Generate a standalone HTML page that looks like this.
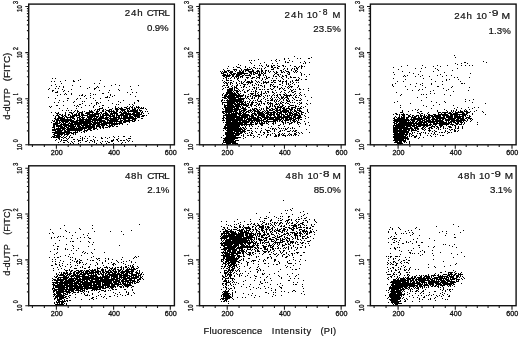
<!DOCTYPE html>
<html><head><meta charset="utf-8"><style>html,body{margin:0;padding:0;background:#fff;width:520px;height:337px;overflow:hidden}svg{display:block}</style></head><body>
<svg width="520" height="337" viewBox="0 0 520 337">
<rect width="520" height="337" fill="#fff"/>
<g>
<path stroke="#000" stroke-width="1" fill="none" d="M454 55.5h1M294 56.5h1M311 57.5h1m143 0h1M284 58.5h1m3 0h1m8 0h1m2 0h1m7 0h2M258 59.5h1m17 0h1m7 0h1M249 60.5h1m1 0h1m2 0h1m16 0h1m3 0h1m3 0h1m9 0h1M276 61.5h1m8 0h1m6 0h1m11 0h1m178 0h1M250 62.5h1m13 0h1m20 0h1m1 0h2m11 0h1m4 0h1m3 0h1m154 0h2m20 0h1M251 63.5h1m8 0h1m11 0h1m4 0h1m25 0h1m1 0h1m149 0h1m5 0h1m5 0h1M238 64.5h1m27 0h1m190 0h1M240 65.5h1m13 0h1m4 0h1m1 0h1m4 0h1m1 0h1m2 0h1m1 0h2m2 0h1m4 0h2m6 0h1m10 0h1m105 0h1m14 0h1m14 0h1m9 0h1m13 0h1m3 0h1m3 0h1m2 0h1M228 66.5h1m7 0h1m8 0h1m16 0h1m4 0h2m2 0h2m5 0h2m3 0h1m1 0h1m8 0h2m3 0h1m1 0h2m1 0h1m96 0h1m31 0h1m6 0h1M233 67.5h1m3 0h3m5 0h1m3 0h1m3 0h2m10 0h1m5 0h2m1 0h2m1 0h1m18 0h1m1 0h1m2 0h1m91 0h1m31 0h1M227 68.5h1m12 0h1m6 0h1m3 0h1m3 0h1m1 0h1m1 0h1m1 0h1m2 0h1m8 0h1m3 0h2m5 0h1m2 0h1m4 0h1m1 0h1m1 0h2m3 0h1m113 0h1m5 0h1m13 0h1m21 0h1M223 69.5h1m9 0h4m4 0h1m2 0h7m1 0h1m8 0h1m9 0h3m9 0h1m3 0h1m3 0h1m2 0h1m2 0h1m100 0h1m38 0h1M224 70.5h1m2 0h3m4 0h1m1 0h1m2 0h1m1 0h1m1 0h1m1 0h4m3 0h2m3 0h2m2 0h2m2 0h2m1 0h1m11 0h2m3 0h1m5 0h1m3 0h2m141 0h1m13 0h1M220 71.5h1m1 0h1m1 0h3m1 0h1m1 0h3m2 0h1m3 0h2m1 0h2m1 0h1m2 0h6m2 0h4m1 0h2m2 0h1m2 0h1m1 0h1m2 0h1m2 0h1m4 0h1m1 0h1m2 0h3m4 0h1m1 0h1m1 0h1m104 0h1m17 0h1m12 0h1M221 72.5h1m1 0h4m2 0h4m4 0h7m5 0h3m1 0h3m1 0h1m1 0h1m1 0h1m1 0h1m1 0h1m3 0h1m4 0h1m1 0h2m3 0h2m1 0h1m3 0h2m4 0h1m1 0h1m3 0h1m92 0h1m15 0h1m34 0h1M221 73.5h3m3 0h1m2 0h2m1 0h3m1 0h11m2 0h2m1 0h1m1 0h3m1 0h1m1 0h2m1 0h2m9 0h2m10 0h1m1 0h1m11 0h1m111 0h1m56 0h1M223 74.5h3m1 0h1m1 0h1m1 0h4m1 0h6m2 0h1m4 0h1m1 0h1m1 0h2m3 0h3m2 0h1m10 0h1m2 0h2m1 0h1m7 0h2m11 0h1m2 0h1m4 0h1m84 0h1m23 0h1m21 0h1M222 75.5h9m1 0h2m2 0h4m2 0h2m1 0h6m7 0h3m2 0h1m1 0h1m7 0h1m4 0h1m3 0h1m2 0h2m14 0h1m102 0h1m2 0h1m14 0h1m14 0h1m8 0h1m4 0h1M223 76.5h2m1 0h4m2 0h2m1 0h4m1 0h3m7 0h1m5 0h1m2 0h1m6 0h1m6 0h1m1 0h2m2 0h1m2 0h2m2 0h1m3 0h1m15 0h1m96 0h1m1 0h1m9 0h1m4 0h1m8 0h1m12 0h1M225 77.5h2m4 0h1m2 0h1m1 0h1m1 0h1m1 0h1m1 0h1m3 0h3m3 0h3m2 0h3m4 0h1m1 0h1m1 0h2m11 0h1m4 0h1m3 0h2m1 0h3m2 0h1m155 0h1m2 0h1m11 0h1M52 78.5h1m2 0h1m167 0h1m2 0h1m1 0h1m1 0h1m3 0h1m2 0h2m8 0h1m3 0h2m3 0h1m2 0h1m2 0h1m3 0h2m4 0h1m3 0h1m5 0h1m5 0h1m10 0h1m93 0h1m29 0h1M80 79.5h1m145 0h1m10 0h1m7 0h1m16 0h1m2 0h1m17 0h1m12 0h1m1 0h1m2 0h1m3 0h2m98 0h1m25 0h1m14 0h1m2 0h1m8 0h1M65 80.5h1m7 0h1m4 0h1m21 0h1m121 0h1m3 0h3m1 0h2m6 0h1m6 0h1m5 0h1m3 0h1m5 0h1m9 0h1m1 0h3m2 0h1m1 0h1m5 0h1m5 0h1m2 0h4m147 0h1M51 81.5h1m2 0h1m5 0h1m12 0h2m149 0h1m8 0h1m5 0h1m1 0h1m2 0h1m2 0h3m1 0h2m3 0h1m1 0h1m4 0h1m1 0h1m2 0h1m4 0h1m5 0h2m1 0h2m1 0h2m3 0h1m1 0h1m104 0h1m5 0h1m31 0h1m6 0h1m17 0h1M223 82.5h1m1 0h2m1 0h1m1 0h2m4 0h1m4 0h1m1 0h1m2 0h7m4 0h1m1 0h1m3 0h6m2 0h2m1 0h2m6 0h1m3 0h1m3 0h1m2 0h1m2 0h1m1 0h1M61 83.5h1m32 0h1m4 0h1m124 0h1m1 0h2m2 0h1m1 0h1m3 0h1m2 0h1m1 0h2m5 0h1m1 0h1m4 0h1m5 0h1m1 0h1m2 0h1m15 0h1m3 0h1m1 0h1m3 0h1m102 0h1m20 0h1m5 0h1m8 0h1m29 0h2m1 0h1M55 84.5h1m59 0h1m111 0h1m2 0h1m6 0h1m5 0h3m1 0h1m4 0h1m3 0h1m1 0h1m11 0h2m1 0h1m5 0h2m5 0h1m1 0h1m1 0h1m3 0h1m97 0h1m17 0h1m9 0h1m10 0h1m10 0h1M51 85.5h1m20 0h1m38 0h1m7 0h1m18 0h1m84 0h2m1 0h2m4 0h1m3 0h2m2 0h1m3 0h1m7 0h1m1 0h1m3 0h1m1 0h2m2 0h1m5 0h1m1 0h1m9 0h1m6 0h1m8 0h1m93 0h1m29 0h1M56 86.5h1m2 0h1m3 0h1m16 0h1m16 0h1m6 0h1m25 0h1m91 0h1m5 0h1m2 0h1m2 0h1m1 0h1m6 0h2m4 0h1m12 0h1m1 0h1m5 0h1m2 0h3m1 0h1m7 0h1m2 0h1m1 0h3m5 0h1m94 0h1m11 0h1m9 0h1m21 0h2m13 0h1M63 87.5h1m25 0h1m6 0h1m1 0h1m126 0h1m1 0h2m3 0h1m1 0h3m4 0h1m1 0h1m2 0h1m6 0h2m1 0h1m1 0h1m5 0h1m9 0h1m2 0h1m3 0h1m5 0h1m1 0h1m1 0h1m5 0h1m127 0h1m25 0h1m17 0h1M49 88.5h1m5 0h1m2 0h1m28 0h1m6 0h2m127 0h1m5 0h4m1 0h1m1 0h2m16 0h1m1 0h1m13 0h1m2 0h1m5 0h2m1 0h1m1 0h1m3 0h1m10 0h1m8 0h1m134 0h1M48 89.5h1m13 0h1m8 0h1m22 0h1m23 0h1m12 0h1m90 0h1m4 0h6m1 0h1m3 0h1m4 0h1m5 0h1m2 0h1m3 0h1m2 0h2m1 0h1m1 0h1m2 0h2m2 0h2m6 0h1m3 0h1m6 0h1m2 0h1m1 0h1m3 0h2m2 0h1m103 0h1m11 0h1m2 0h1m25 0h1M52 90.5h2m10 0h1m34 0h1m9 0h1m9 0h1m107 0h6m1 0h4m1 0h1m2 0h1m4 0h2m6 0h1m19 0h1m8 0h2m5 0h2m15 0h1m103 0h1m5 0h1m14 0h1m12 0h1m21 0h1M52 91.5h1m4 0h1m5 0h1m4 0h1m158 0h5m1 0h1m2 0h3m1 0h1m3 0h1m2 0h1m3 0h1m1 0h1m1 0h2m4 0h1m3 0h1m1 0h2m3 0h1m8 0h1m7 0h1m1 0h1m2 0h2m134 0h1m22 0h1M55 92.5h3m50 0h1m18 0h1m4 0h1m3 0h1m89 0h7m1 0h1m1 0h2m6 0h2m9 0h1m2 0h1m2 0h1m3 0h1m2 0h1m3 0h2m2 0h1m3 0h1m3 0h1m3 0h1m3 0h2m6 0h1m95 0h1M65 93.5h1m5 0h1m18 0h1m11 0h2m119 0h1m2 0h10m1 0h2m1 0h1m9 0h4m1 0h1m1 0h1m3 0h1m1 0h2m1 0h1m7 0h1m10 0h1m9 0h1m3 0h1m130 0h1m3 0h1M60 94.5h1m3 0h1m1 0h1m4 0h1m10 0h1m10 0h1m1 0h1m14 0h1m19 0h1m91 0h1m2 0h3m1 0h8m1 0h2m3 0h1m4 0h1m2 0h2m2 0h1m2 0h1m1 0h2m11 0h1m3 0h1m1 0h2m2 0h2m1 0h1m3 0h1m3 0h1m5 0h1m3 0h1m96 0h1m19 0h1m1 0h1m2 0h1m17 0h1M57 95.5h1m21 0h1m1 0h2m2 0h1m4 0h1m19 0h1m3 0h1m107 0h1m1 0h3m1 0h16m1 0h1m4 0h1m2 0h7m1 0h1m3 0h1m1 0h1m1 0h1m2 0h1m1 0h1m1 0h2m2 0h1m3 0h8m1 0h1m2 0h1m2 0h1m1 0h1m98 0h1m49 0h1M84 96.5h1m22 0h1m4 0h1m22 0h1m88 0h11m1 0h7m2 0h1m1 0h2m1 0h1m1 0h1m2 0h2m1 0h3m2 0h1m3 0h1m3 0h1m5 0h1m3 0h1m1 0h1m2 0h2m1 0h1m5 0h1m9 0h1M48 97.5h1m41 0h1m14 0h3m1 0h1m112 0h4m1 0h12m1 0h1m4 0h1m1 0h1m4 0h1m1 0h1m3 0h1m5 0h1m6 0h1m2 0h1m1 0h1m1 0h1m2 0h3m1 0h3m4 0h1m2 0h2m1 0h1m12 0h1m105 0h1m8 0h1M55 98.5h1m11 0h2m8 0h1m2 0h1m5 0h1m6 0h1m6 0h1m123 0h3m1 0h8m2 0h7m1 0h1m1 0h1m2 0h2m1 0h1m3 0h1m4 0h1m3 0h1m2 0h1m1 0h1m6 0h1m1 0h2m1 0h1m2 0h2m4 0h1m6 0h1M76 99.5h1m145 0h1m4 0h1m1 0h15m5 0h1m7 0h1m3 0h1m3 0h1m5 0h2m2 0h1m1 0h1m2 0h1m2 0h1m2 0h1m1 0h1m5 0h1m6 0h1m163 0h1m7 0h1M59 100.5h1m7 0h1m27 0h1m12 0h1m14 0h1m13 0h2m82 0h2m1 0h1m1 0h16m1 0h1m6 0h1m2 0h1m1 0h1m1 0h1m2 0h1m6 0h2m1 0h3m1 0h1m1 0h1m2 0h1m3 0h1m2 0h2m1 0h1m2 0h1m3 0h2m1 0h2m6 0h1m113 0h1m47 0h1M63 101.5h1m10 0h1m7 0h1m1 0h1m33 0h1m19 0h1m82 0h1m5 0h17m1 0h1m1 0h1m1 0h1m2 0h1m5 0h4m3 0h1m8 0h1m1 0h1m1 0h1m2 0h1m5 0h3m107 0h1m33 0h1m12 0h1m20 0h1M54 102.5h1m3 0h1m14 0h1m22 0h2m2 0h1m19 0h1m13 0h1m87 0h13m1 0h2m1 0h4m1 0h2m3 0h1m1 0h3m1 0h2m4 0h1m5 0h2m1 0h1m4 0h1m4 0h1m1 0h2m2 0h1m3 0h1m1 0h1m1 0h1m4 0h1m1 0h1m92 0h1m41 0h1m8 0h1m26 0h1M82 103.5h1m8 0h1m4 0h1m1 0h1m13 0h1m21 0h1m87 0h1m4 0h9m1 0h3m1 0h3m1 0h1m1 0h2m2 0h2m4 0h1m1 0h1m1 0h1m1 0h2m2 0h1m1 0h4m3 0h1m1 0h1m1 0h2m3 0h1m1 0h2m8 0h1m2 0h2m4 0h1m3 0h1m99 0h1m74 0h1M79 104.5h2m15 0h1m19 0h1m1 0h1m10 0h1m2 0h1m89 0h1m1 0h1m2 0h6m1 0h13m1 0h1m1 0h3m3 0h1m1 0h2m4 0h1m3 0h1m1 0h1m1 0h1m2 0h3m1 0h1m2 0h1m6 0h1m9 0h1m7 0h1m131 0h1M56 105.5h2m5 0h1m10 0h1m2 0h1m7 0h1m3 0h1m4 0h1m7 0h2m29 0h1m90 0h10m1 0h5m1 0h1m1 0h6m1 0h2m2 0h2m2 0h1m1 0h1m9 0h1m1 0h1m1 0h1m4 0h1m2 0h2m6 0h4m1 0h1m104 0h1m22 0h1m9 0h1m19 0h1M49 106.5h1m1 0h1m24 0h1m1 0h1m14 0h1m5 0h1m15 0h1m11 0h1m2 0h1m1 0h1m3 0h1m1 0h1m85 0h2m1 0h14m1 0h1m3 0h2m3 0h1m4 0h1m9 0h1m2 0h2m1 0h1m1 0h2m1 0h2m1 0h3m2 0h1m2 0h2m5 0h2m1 0h1m2 0h1m3 0h1m120 0h1M50 107.5h1m30 0h1m11 0h1m8 0h1m5 0h1m6 0h1m2 0h1m2 0h1m2 0h3m2 0h1m1 0h2m1 0h1m1 0h4m1 0h1m1 0h1m80 0h11m1 0h3m1 0h1m1 0h2m1 0h1m2 0h2m9 0h1m6 0h2m1 0h1m5 0h1m1 0h5m1 0h2m3 0h1m2 0h5m4 0h1m2 0h1m96 0h1m56 0h1m10 0h1m5 0h1m3 0h1M59 108.5h1m7 0h1m8 0h1m22 0h4m9 0h1m2 0h3m1 0h4m3 0h4m2 0h1m1 0h2m2 0h1m1 0h4m1 0h1m76 0h1m2 0h8m1 0h5m2 0h5m6 0h1m1 0h3m4 0h1m1 0h1m2 0h3m2 0h2m2 0h3m2 0h1m1 0h3m1 0h4m1 0h2m2 0h1m1 0h5m129 0h1m22 0h1m6 0h1m10 0h1M95 109.5h1m1 0h3m3 0h1m1 0h1m3 0h3m3 0h4m1 0h6m1 0h1m1 0h1m2 0h4m1 0h1m1 0h1m6 0h1m76 0h1m1 0h16m2 0h4m3 0h1m1 0h3m1 0h2m1 0h1m1 0h1m1 0h1m2 0h1m2 0h2m1 0h3m1 0h2m1 0h2m2 0h4m2 0h4m1 0h1m2 0h1m1 0h1m7 0h1m107 0h1m2 0h1m25 0h1m11 0h1m8 0h1m3 0h1M62 110.5h1m3 0h1m1 0h1m2 0h1m3 0h1m1 0h1m11 0h1m1 0h1m2 0h1m2 0h1m1 0h1m2 0h2m2 0h4m1 0h1m1 0h1m2 0h2m3 0h4m2 0h2m1 0h8m1 0h3m83 0h8m1 0h4m1 0h1m1 0h5m2 0h4m1 0h3m1 0h2m1 0h1m3 0h1m1 0h2m1 0h4m2 0h6m1 0h7m1 0h2m2 0h2m1 0h4m6 0h1m94 0h1m9 0h1m4 0h1m19 0h1m8 0h1m4 0h1m1 0h1m2 0h1m3 0h1m3 0h1m1 0h1m9 0h1M74 111.5h1m2 0h2m3 0h1m1 0h1m4 0h4m3 0h3m3 0h2m1 0h1m2 0h7m1 0h2m2 0h1m1 0h1m1 0h2m1 0h11m2 0h1m1 0h1m2 0h1m1 0h1m74 0h15m2 0h3m1 0h2m1 0h3m1 0h1m1 0h1m1 0h6m2 0h2m1 0h1m1 0h2m4 0h2m1 0h2m2 0h9m1 0h1m1 0h1m1 0h3m2 0h3m5 0h1m94 0h1m5 0h1m11 0h2m15 0h1m9 0h1m3 0h1m1 0h1m1 0h1m2 0h1m1 0h3m1 0h4m2 0h1m3 0h1m7 0h1M51 112.5h1m3 0h1m2 0h1m6 0h1m3 0h3m1 0h1m3 0h1m1 0h4m3 0h8m2 0h2m2 0h2m3 0h2m2 0h1m1 0h1m1 0h4m2 0h3m1 0h4m1 0h1m4 0h7m1 0h2m79 0h2m1 0h7m1 0h1m1 0h3m1 0h2m1 0h2m1 0h2m1 0h2m1 0h1m2 0h1m2 0h6m1 0h1m1 0h10m1 0h5m1 0h4m1 0h4m1 0h1m2 0h3m2 0h3m4 0h1m91 0h3m14 0h2m9 0h1m9 0h3m1 0h6m1 0h2m1 0h1m2 0h9m2 0h4m13 0h1M56 113.5h3m6 0h1m5 0h2m3 0h1m1 0h2m1 0h2m2 0h5m2 0h1m1 0h6m1 0h1m1 0h5m2 0h8m3 0h10m1 0h3m1 0h4m1 0h1m1 0h1m4 0h1m74 0h2m1 0h1m1 0h2m1 0h11m1 0h3m6 0h4m1 0h7m1 0h4m1 0h2m1 0h2m1 0h2m1 0h3m3 0h1m1 0h1m1 0h4m1 0h3m1 0h2m1 0h1m3 0h1m89 0h2m6 0h1m15 0h1m1 0h2m4 0h1m10 0h1m2 0h1m2 0h2m2 0h4m1 0h5m4 0h3m1 0h2m4 0h1M57 114.5h1m1 0h2m1 0h1m2 0h1m2 0h2m2 0h1m1 0h3m1 0h2m1 0h3m3 0h12m1 0h1m1 0h2m1 0h4m1 0h3m1 0h1m1 0h2m2 0h4m1 0h17m83 0h12m1 0h3m1 0h7m2 0h2m1 0h3m1 0h7m2 0h8m1 0h4m1 0h3m1 0h3m1 0h2m1 0h6m1 0h1m1 0h2m90 0h1m2 0h2m1 0h1m1 0h4m1 0h2m2 0h1m9 0h1m3 0h1m3 0h2m3 0h3m2 0h10m2 0h17m5 0h1m12 0h1M53 115.5h1m2 0h3m2 0h2m1 0h2m2 0h1m1 0h1m1 0h8m1 0h7m1 0h7m2 0h1m1 0h1m1 0h9m1 0h3m1 0h12m1 0h2m2 0h7m2 0h3m1 0h1m76 0h14m2 0h11m1 0h3m1 0h2m1 0h7m1 0h2m1 0h3m1 0h2m2 0h3m1 0h1m1 0h2m2 0h6m1 0h7m3 0h1m94 0h1m2 0h3m3 0h2m2 0h2m2 0h3m1 0h3m1 0h1m1 0h1m1 0h5m1 0h7m1 0h7m1 0h3m1 0h4m1 0h1m2 0h4m1 0h1m1 0h1M55 116.5h1m2 0h2m2 0h2m1 0h2m3 0h5m1 0h1m2 0h2m1 0h1m4 0h12m1 0h4m2 0h1m2 0h6m1 0h1m1 0h2m1 0h1m1 0h5m1 0h4m1 0h6m1 0h3m79 0h1m2 0h14m1 0h7m1 0h5m3 0h2m2 0h4m1 0h3m1 0h1m3 0h2m1 0h5m1 0h7m1 0h1m1 0h3m2 0h3m4 0h1m89 0h1m3 0h1m1 0h1m1 0h2m3 0h3m1 0h1m1 0h3m1 0h1m1 0h2m1 0h3m1 0h3m1 0h10m2 0h2m1 0h7m1 0h10m1 0h1m3 0h2M55 117.5h1m2 0h5m1 0h1m1 0h8m3 0h3m1 0h4m2 0h6m1 0h1m1 0h2m1 0h5m1 0h4m1 0h1m2 0h7m1 0h1m1 0h11m1 0h1m1 0h3m83 0h2m1 0h22m1 0h1m1 0h5m1 0h4m1 0h30m1 0h3m1 0h5m6 0h1m85 0h1m1 0h1m1 0h2m1 0h4m1 0h3m2 0h5m2 0h2m1 0h1m1 0h8m1 0h2m1 0h10m1 0h7m1 0h7m1 0h2m2 0h4M54 118.5h2m1 0h8m2 0h1m2 0h1m1 0h3m2 0h1m1 0h2m1 0h2m2 0h1m1 0h4m1 0h4m1 0h10m1 0h8m1 0h19m4 0h2m79 0h2m1 0h10m1 0h7m1 0h2m1 0h12m1 0h2m2 0h4m1 0h5m1 0h5m1 0h3m1 0h3m1 0h5m1 0h5m5 0h1m87 0h2m2 0h8m1 0h2m3 0h1m1 0h12m1 0h4m2 0h3m1 0h10m2 0h8m1 0h7m1 0h2m1 0h4M55 119.5h4m1 0h12m2 0h1m2 0h1m1 0h23m3 0h4m1 0h9m1 0h1m2 0h3m2 0h2m2 0h4m87 0h1m2 0h17m1 0h1m1 0h6m1 0h7m1 0h1m1 0h3m1 0h15m1 0h1m1 0h7m1 0h3m2 0h1m1 0h2m92 0h15m1 0h13m1 0h3m1 0h2m1 0h7m1 0h2m1 0h2m1 0h10m1 0h3m1 0h5m2 0h1m2 0h1m1 0h1M52 120.5h1m1 0h1m1 0h18m2 0h8m1 0h6m1 0h13m2 0h11m2 0h3m1 0h9m1 0h2m2 0h1m83 0h3m1 0h21m1 0h16m2 0h2m5 0h5m1 0h2m1 0h1m1 0h5m1 0h1m1 0h3m1 0h1m1 0h1m94 0h17m1 0h4m2 0h4m1 0h3m1 0h5m1 0h2m1 0h8m2 0h5m1 0h15m1 0h1m3 0h1M53 121.5h2m1 0h2m1 0h1m1 0h8m1 0h8m1 0h14m1 0h2m1 0h1m1 0h7m1 0h1m1 0h13m1 0h7m2 0h3m91 0h5m1 0h6m1 0h2m1 0h8m1 0h2m1 0h1m1 0h4m1 0h1m1 0h13m1 0h1m1 0h1m1 0h2m2 0h1m4 0h1m2 0h3m1 0h1m6 0h1m89 0h13m1 0h1m1 0h1m1 0h3m1 0h2m1 0h4m1 0h20m2 0h1m1 0h1m1 0h5m1 0h6m1 0h1m2 0h1m3 0h1M51 122.5h1m3 0h3m1 0h2m1 0h2m1 0h3m1 0h1m1 0h20m1 0h10m1 0h10m1 0h1m1 0h1m2 0h3m1 0h3m3 0h1m93 0h1m1 0h24m1 0h4m1 0h1m1 0h1m1 0h1m1 0h2m1 0h1m1 0h1m1 0h1m4 0h1m1 0h1m6 0h2m1 0h1m1 0h2m2 0h2m1 0h1m2 0h3m8 0h1m84 0h2m1 0h2m1 0h15m1 0h2m1 0h9m1 0h7m1 0h2m1 0h8m1 0h4m1 0h3m1 0h2m1 0h3m1 0h1m12 0h1M53 123.5h7m1 0h1m1 0h3m2 0h5m1 0h18m1 0h7m1 0h22m103 0h17m1 0h3m3 0h2m3 0h3m1 0h6m1 0h2m4 0h2m1 0h1m7 0h1m1 0h1m3 0h3m5 0h1m2 0h1m4 0h1m88 0h3m1 0h24m1 0h2m1 0h2m2 0h1m2 0h17m1 0h1m3 0h4m2 0h1m2 0h1M53 124.5h5m2 0h9m1 0h12m1 0h5m1 0h7m1 0h10m2 0h1m1 0h7m1 0h1m2 0h1m4 0h1m97 0h29m1 0h2m3 0h3m5 0h1m4 0h1m6 0h1m2 0h1m5 0h1m8 0h1m6 0h1m88 0h1m1 0h16m1 0h2m1 0h12m1 0h3m1 0h4m2 0h10m1 0h4m2 0h2m1 0h3m1 0h1m13 0h1M53 125.5h2m1 0h6m1 0h11m1 0h1m1 0h3m1 0h10m1 0h3m1 0h4m1 0h4m1 0h2m1 0h4m1 0h1m110 0h15m1 0h2m1 0h1m1 0h1m2 0h1m1 0h1m9 0h2m15 0h2m29 0h1m83 0h24m1 0h13m1 0h1m2 0h1m3 0h4m3 0h1m5 0h1m1 0h2M53 126.5h2m1 0h7m1 0h3m1 0h8m1 0h4m1 0h2m1 0h10m1 0h5m1 0h2m4 0h3m1 0h2m2 0h2m106 0h2m1 0h13m5 0h1m3 0h1m2 0h1m5 0h1m12 0h1m12 0h1m14 0h1m93 0h1m1 0h10m1 0h5m1 0h3m1 0h5m2 0h2m1 0h2m3 0h4m1 0h2m2 0h2m1 0h1m4 0h3m4 0h1m2 0h1m3 0h1M52 127.5h3m3 0h1m1 0h5m1 0h3m1 0h5m1 0h1m1 0h17m1 0h1m2 0h2m1 0h2m1 0h3m1 0h1m114 0h15m1 0h1m1 0h2m1 0h1m22 0h1m9 0h1m9 0h1m3 0h1m100 0h15m2 0h2m2 0h4m4 0h2m1 0h1m3 0h3m2 0h1m2 0h2m1 0h1m2 0h1m5 0h3m3 0h1m2 0h1m3 0h1M54 128.5h1m1 0h10m1 0h20m1 0h4m1 0h4m3 0h1m2 0h1m119 0h19m1 0h2m1 0h1m3 0h2m3 0h1m1 0h1m3 0h1m8 0h1m1 0h2m1 0h1m3 0h1m1 0h1m1 0h1m1 0h1m1 0h1m2 0h1m1 0h1m1 0h1m98 0h20m1 0h5m2 0h2m1 0h1m3 0h2m1 0h2m3 0h1m1 0h1m4 0h1m1 0h1m1 0h1m7 0h1m1 0h2m3 0h1M52 129.5h9m1 0h3m1 0h17m1 0h1m2 0h4m2 0h2m2 0h1m127 0h1m1 0h16m1 0h2m19 0h1m6 0h1m1 0h1m1 0h1m8 0h2m19 0h1m86 0h5m1 0h3m1 0h7m1 0h3m1 0h1m1 0h2m3 0h2m1 0h1m3 0h1m8 0h1m1 0h1m8 0h1m1 0h2m1 0h1M52 130.5h4m1 0h6m1 0h2m1 0h15m2 0h4m2 0h2m131 0h1m2 0h15m1 0h3m2 0h3m1 0h1m9 0h1m4 0h4m4 0h1m5 0h1m1 0h1m1 0h1m5 0h1m2 0h1m1 0h2m96 0h14m1 0h2m1 0h6m7 0h1m3 0h3m3 0h1m10 0h1m4 0h1m3 0h2m2 0h1M55 131.5h7m2 0h6m5 0h1m1 0h1m1 0h1m3 0h2m1 0h1m140 0h6m1 0h12m6 0h1m2 0h1m4 0h1m6 0h1m2 0h1m3 0h1m4 0h2m6 0h3m2 0h1m1 0h2m97 0h16m2 0h1m5 0h2m10 0h1m2 0h1m2 0h2m8 0h1m1 0h1m6 0h2m1 0h1M52 132.5h20m1 0h5m3 0h1m2 0h1m140 0h10m1 0h3m1 0h3m1 0h1m4 0h1m1 0h1m4 0h1m3 0h1m2 0h2m2 0h2m9 0h1m17 0h1m1 0h1m2 0h1m7 0h1m83 0h5m1 0h10m3 0h1m1 0h1m6 0h1m1 0h1m1 0h1m8 0h1m4 0h1m1 0h2m1 0h1m3 0h2m1 0h1M54 133.5h11m1 0h4m1 0h3m1 0h1m149 0h17m3 0h1m1 0h1m3 0h2m11 0h1m7 0h1m1 0h1m4 0h1m2 0h1m1 0h1m4 0h1m4 0h2m3 0h1m2 0h1m91 0h11m1 0h2m1 0h2m1 0h1m4 0h1m1 0h2m4 0h1m2 0h1m2 0h1m2 0h1m12 0h1M53 134.5h2m2 0h6m1 0h5m4 0h1m1 0h1m149 0h9m1 0h5m3 0h1m6 0h1m7 0h2m3 0h1m3 0h2m1 0h1m4 0h1m2 0h2m1 0h1m1 0h1m4 0h1m1 0h2m2 0h3m96 0h15m1 0h1m1 0h1m8 0h1m12 0h1m1 0h1m1 0h1M54 135.5h6m1 0h1m2 0h1m2 0h1m2 0h1m152 0h1m2 0h13m2 0h1m1 0h1m3 0h2m1 0h2m1 0h1m7 0h1m5 0h1m2 0h1m4 0h2m1 0h2m2 0h4m1 0h1m1 0h1m1 0h1m1 0h1m1 0h1m2 0h1m95 0h10m1 0h2m2 0h1m2 0h2m2 0h1m3 0h1m6 0h1m2 0h1m9 0h1m1 0h2M52 136.5h3m1 0h5m2 0h1m2 0h1m2 0h1m10 0h1m4 0h1m3 0h1m3 0h1m19 0h1m4 0h1m4 0h2m5 0h1m95 0h10m7 0h1m10 0h1m2 0h1m8 0h1m7 0h3m1 0h1m6 0h1m107 0h13m1 0h1m1 0h1m1 0h1m2 0h3m14 0h1m3 0h1M51 137.5h1m1 0h7m1 0h2m1 0h2m3 0h1m1 0h2m9 0h1m12 0h1m5 0h1m3 0h1m3 0h1m4 0h1m106 0h1m3 0h16m4 0h1m7 0h1m5 0h1m6 0h1m126 0h15m6 0h2m3 0h1m3 0h1M58 138.5h2m3 0h1m2 0h1m1 0h1m11 0h1m1 0h1m1 0h1m2 0h1m13 0h2m4 0h1m10 0h1m9 0h3m92 0h15m5 0h1m150 0h15m9 0h1M56 139.5h1m2 0h1m1 0h1m5 0h1m5 0h2m2 0h1m4 0h1m10 0h1m19 0h1m2 0h2m8 0h1m97 0h11m159 0h10m1 0h1m1 0h2M55 140.5h1m5 0h1m1 0h4m11 0h3m1 0h1m4 0h1m2 0h2m2 0h1m2 0h1m13 0h3m3 0h1m2 0h2m1 0h2m2 0h1m1 0h1m93 0h11m1 0h4m154 0h13M60 141.5h1m6 0h1m3 0h1m2 0h1m3 0h1m6 0h2m5 0h1m1 0h1m7 0h1m2 0h1m1 0h1m3 0h2m5 0h1m9 0h1m3 0h1m90 0h1m1 0h11m159 0h3m1 0h3m1 0h3m3 0h1M58 142.5h1m4 0h2m3 0h1m3 0h1m7 0h1m8 0h1m4 0h1m5 0h1m7 0h2m12 0h1m2 0h1m97 0h13m158 0h8m2 0h1m1 0h1m2 0h1M70 143.5h1m2 0h1m4 0h1m17 0h1m4 0h1m4 0h1m6 0h1m7 0h1m100 0h1m3 0h5m1 0h6m159 0h6m6 0h1M224 144.5h1m1 0h3m6 0h1m1 0h1m158 0h1m1 0h1m1 0h1M283 200.5h1M292 208.5h1M290 209.5h1M285 210.5h1m1 0h1m3 0h1M303 211.5h1M269 212.5h1m30 0h1M256 213.5h1m24 0h1m4 0h1m20 0h1M292 214.5h1m11 0h1M303 215.5h1M266 216.5h1m7 0h1m5 0h1m1 0h1m5 0h2m11 0h1M260 217.5h1m7 0h1m7 0h1m11 0h1m9 0h1m7 0h1M264 218.5h3m11 0h1m1 0h1m20 0h1m2 0h2M237 219.5h1m12 0h1m8 0h1m11 0h1m10 0h1m5 0h2m1 0h1m4 0h1m1 0h2m9 0h1m4 0h1M264 220.5h1m5 0h2m6 0h1m1 0h2m4 0h3m2 0h1m3 0h1m7 0h1m1 0h2m7 0h1M221 221.5h1m4 0h1m7 0h1m9 0h1m5 0h1m9 0h1m1 0h1m7 0h1m14 0h1m1 0h1m8 0h1m1 0h1m8 0h1m7 0h1M240 222.5h1m22 0h2m7 0h1m1 0h2m1 0h1m2 0h2m5 0h1m1 0h1m2 0h1m4 0h1m4 0h2m3 0h1m8 0h1M238 223.5h1m12 0h1m2 0h1m2 0h1m4 0h1m3 0h1m1 0h1m1 0h1m3 0h1m1 0h1m2 0h2m1 0h1m3 0h1m1 0h1m2 0h2m3 0h1m3 0h3M139 224.5h1m86 0h1m7 0h1m1 0h1m3 0h1m6 0h2m1 0h1m2 0h2m3 0h1m2 0h1m3 0h2m1 0h1m2 0h1m2 0h1m4 0h1m6 0h1m7 0h2m2 0h2m2 0h2m7 0h1m2 0h1m138 0h1M64 225.5h1m27 0h1m135 0h1m1 0h1m8 0h1m3 0h1m11 0h1m1 0h3m2 0h2m6 0h1m1 0h1m2 0h1m2 0h1m2 0h1m2 0h1m4 0h1m1 0h6m1 0h1m1 0h1m3 0h1m1 0h1m4 0h1M221 226.5h1m9 0h1m2 0h1m4 0h2m2 0h1m4 0h1m3 0h2m2 0h1m2 0h5m1 0h1m1 0h2m4 0h1m6 0h2m1 0h2m8 0h4m3 0h1m11 0h2m122 0h1m21 0h1M223 227.5h2m2 0h1m6 0h3m2 0h2m1 0h1m1 0h6m2 0h1m2 0h1m3 0h5m1 0h1m1 0h3m2 0h1m1 0h1m10 0h2m1 0h2m2 0h2m2 0h1m1 0h4m1 0h2m1 0h2m2 0h1m79 0h1m7 0h1m17 0h1M60 228.5h1m18 0h1m12 0h1m131 0h1m2 0h1m9 0h1m5 0h1m1 0h6m4 0h1m2 0h1m2 0h3m2 0h1m1 0h1m2 0h2m4 0h1m3 0h1m1 0h2m4 0h3m1 0h2m1 0h2m8 0h2m1 0h2m81 0h1m6 0h1m15 0h1M50 229.5h1m29 0h1m141 0h2m1 0h1m2 0h2m1 0h1m1 0h4m2 0h1m1 0h3m2 0h1m2 0h2m1 0h2m1 0h2m2 0h1m1 0h2m2 0h3m1 0h2m1 0h1m2 0h1m1 0h1m1 0h2m2 0h3m1 0h1m3 0h3m5 0h3m2 0h1m7 0h1m76 0h1m2 0h1m7 0h1m18 0h1M65 230.5h1m65 0h1m93 0h3m2 0h2m5 0h6m1 0h1m1 0h4m3 0h1m2 0h2m3 0h3m2 0h1m2 0h1m2 0h1m1 0h1m1 0h4m2 0h3m2 0h1m4 0h2m5 0h1m2 0h3m1 0h1m3 0h1m5 0h1m91 0h1m2 0h1m51 0h1M66 231.5h1m27 0h1m15 0h1m10 0h1m98 0h1m2 0h11m1 0h1m3 0h4m1 0h3m1 0h1m1 0h1m1 0h1m3 0h1m1 0h2m2 0h1m1 0h1m1 0h1m3 0h2m2 0h2m2 0h3m1 0h1m1 0h1m1 0h1m9 0h1m3 0h1m1 0h6m2 0h2m1 0h1m74 0h1m16 0h1m36 0h1m3 0h1M52 232.5h1m16 0h1m5 0h1m147 0h2m1 0h3m1 0h6m2 0h1m1 0h9m2 0h1m4 0h1m2 0h1m3 0h2m1 0h1m3 0h1m1 0h1m3 0h1m4 0h2m4 0h1m2 0h5m2 0h1m1 0h2m2 0h1m1 0h1m1 0h1m1 0h3m2 0h1m73 0h1m6 0h1m13 0h1m2 0h1m26 0h1m20 0h1M49 233.5h1m3 0h1m34 0h1m132 0h9m1 0h6m1 0h6m1 0h9m1 0h1m1 0h4m3 0h1m2 0h2m2 0h1m4 0h1m1 0h1m5 0h1m1 0h3m3 0h1m1 0h4m1 0h3m2 0h1m1 0h2m1 0h1m85 0h1m5 0h1m1 0h1m2 0h1m6 0h1m32 0h1M83 234.5h1m39 0h1m97 0h2m1 0h1m1 0h1m1 0h16m1 0h3m1 0h3m1 0h3m1 0h1m1 0h2m2 0h3m1 0h2m2 0h3m5 0h1m3 0h3m2 0h1m1 0h1m3 0h3m3 0h1m1 0h1m3 0h2m6 0h1m81 0h1m15 0h1m41 0h1M72 235.5h1m14 0h1m133 0h1m1 0h12m1 0h8m1 0h3m1 0h5m1 0h1m1 0h1m1 0h1m1 0h4m1 0h1m2 0h1m4 0h1m2 0h1m3 0h2m4 0h1m1 0h1m4 0h4m1 0h2m4 0h1m104 0h1m8 0h1m25 0h1M58 236.5h1m1 0h1m2 0h1m156 0h1m1 0h22m2 0h7m3 0h1m1 0h2m1 0h2m5 0h2m5 0h1m1 0h1m1 0h3m2 0h1m6 0h1m3 0h1m1 0h1m2 0h1m1 0h3m2 0h1m2 0h1m80 0h1m2 0h1M51 237.5h1m2 0h1m2 0h1m22 0h1m3 0h1m3 0h1m132 0h7m1 0h13m1 0h12m1 0h1m4 0h3m1 0h3m4 0h3m2 0h3m4 0h1m1 0h2m4 0h1m2 0h1m1 0h1m4 0h1m4 0h2m81 0h1m63 0h2M51 238.5h1m14 0h1m4 0h1m5 0h1m11 0h2m129 0h7m2 0h23m2 0h1m1 0h1m1 0h2m4 0h3m2 0h2m4 0h2m3 0h1m1 0h1m2 0h1m1 0h3m3 0h1m1 0h1m1 0h1m4 0h2m1 0h2m6 0h1m74 0h1m4 0h4m3 0h1m16 0h1m11 0h1M221 239.5h1m2 0h1m1 0h21m1 0h1m1 0h3m1 0h1m1 0h1m1 0h4m1 0h1m2 0h1m2 0h5m2 0h3m1 0h1m1 0h3m1 0h1m2 0h1m2 0h1m4 0h2m1 0h1m91 0h1m20 0h1M59 240.5h1m161 0h1m1 0h1m1 0h6m1 0h18m1 0h1m1 0h1m5 0h4m1 0h3m4 0h1m2 0h1m1 0h1m3 0h3m3 0h2m1 0h1m11 0h1m2 0h1m5 0h1m83 0h1m4 0h1m34 0h1M70 241.5h1m1 0h2m6 0h1m7 0h1m133 0h1m2 0h23m1 0h1m1 0h2m1 0h1m1 0h1m3 0h1m3 0h1m3 0h1m2 0h3m1 0h1m4 0h1m1 0h3m2 0h2m1 0h4m2 0h1m10 0h3m86 0h1m9 0h1m3 0h1m5 0h1M89 242.5h1m3 0h1m127 0h1m1 0h31m1 0h2m3 0h1m1 0h2m1 0h4m5 0h9m4 0h1m2 0h4m1 0h1m1 0h1m2 0h1m1 0h2m84 0h1m4 0h2m3 0h1m7 0h1m1 0h1m7 0h1m4 0h2M55 243.5h1m164 0h23m1 0h2m1 0h4m2 0h3m1 0h2m1 0h1m1 0h1m1 0h1m4 0h1m3 0h1m1 0h1m1 0h1m1 0h1m5 0h1m2 0h1m1 0h1m1 0h1m2 0h1m5 0h2m2 0h1m2 0h1m93 0h2m8 0h1M66 244.5h1m25 0h1m128 0h2m1 0h9m1 0h5m1 0h4m1 0h1m2 0h2m3 0h1m1 0h1m1 0h1m8 0h1m2 0h1m2 0h1m1 0h1m2 0h1m1 0h1m2 0h1m2 0h2m1 0h2m7 0h2m92 0h1m6 0h1m44 0h1m1 0h1m8 0h1M53 245.5h1m18 0h1m46 0h1m101 0h11m1 0h6m2 0h4m1 0h2m1 0h1m2 0h3m1 0h3m3 0h2m4 0h4m1 0h1m4 0h1m3 0h3m5 0h1m2 0h1m8 0h1m6 0h1m108 0h2m29 0h1M57 246.5h2m14 0h1m14 0h1m134 0h2m2 0h10m1 0h1m1 0h14m3 0h1m5 0h4m1 0h1m1 0h1m1 0h2m3 0h1m4 0h1m5 0h1m4 0h1m11 0h1m122 0h1m5 0h1m17 0h1M220 247.5h1m3 0h12m1 0h16m1 0h2m1 0h2m4 0h3m4 0h3m5 0h1m5 0h1m1 0h1m1 0h1m2 0h1m3 0h1m1 0h1m2 0h2m3 0h1m88 0h1m2 0h1m1 0h1m19 0h1m13 0h1m22 0h1M57 248.5h1m7 0h1m7 0h1m4 0h1m144 0h12m1 0h7m4 0h1m2 0h1m4 0h2m1 0h1m1 0h2m2 0h2m1 0h1m4 0h2m1 0h1m1 0h2m1 0h1m2 0h1m1 0h1m2 0h1m2 0h1m5 0h1m92 0h1m3 0h2m17 0h1M54 249.5h1m2 0h1m7 0h1m1 0h1m26 0h1m126 0h6m1 0h9m2 0h1m1 0h2m1 0h1m2 0h4m1 0h1m1 0h1m2 0h1m6 0h4m2 0h1m1 0h2m14 0h1m7 0h1m98 0h1M71 250.5h1m4 0h1m147 0h2m1 0h4m1 0h5m2 0h5m2 0h1m4 0h1m3 0h1m1 0h2m3 0h1m4 0h1m2 0h1m3 0h1m4 0h1m3 0h2m9 0h1m104 0h1m8 0h1m2 0h1m10 0h1m9 0h1M50 251.5h1m32 0h1m139 0h1m1 0h1m1 0h4m1 0h4m1 0h3m1 0h4m1 0h1m8 0h1m1 0h3m3 0h4m1 0h2m3 0h1m6 0h1m2 0h1m5 0h1m111 0h1m18 0h1m3 0h1M57 252.5h1m24 0h1m2 0h1m5 0h1m12 0h1m116 0h7m1 0h7m1 0h4m1 0h2m1 0h1m2 0h3m1 0h2m10 0h2m2 0h1m2 0h1m8 0h1m1 0h1m3 0h1m9 0h3m4 0h2m104 0h2m13 0h1m15 0h1m20 0h1M56 253.5h1m16 0h1m10 0h1m2 0h1m4 0h1m129 0h1m1 0h6m1 0h10m1 0h2m2 0h1m2 0h2m1 0h1m2 0h1m3 0h1m3 0h1m9 0h1m2 0h1m4 0h1m4 0h1m4 0h2m1 0h1m2 0h1m92 0h1m19 0h1m1 0h1m1 0h1m3 0h1m13 0h1m18 0h1M54 254.5h1m14 0h1m153 0h1m1 0h9m2 0h2m5 0h1m3 0h4m2 0h1m8 0h1m6 0h2m3 0h2m2 0h1m4 0h2m3 0h1m3 0h1m107 0h1m21 0h1m34 0h1M65 255.5h1m15 0h1m139 0h9m1 0h5m1 0h3m3 0h1m5 0h1m1 0h1m25 0h1m4 0h1m6 0h1m2 0h1m7 0h2m118 0h1m12 0h1M60 256.5h1m7 0h1m24 0h1m41 0h1m2 0h1m84 0h12m2 0h5m1 0h2m11 0h1m1 0h1m11 0h1m5 0h1m5 0h1m3 0h2m98 0h1m1 0h1m1 0h2m3 0h3m1 0h1m64 0h1M49 257.5h1m4 0h1m2 0h2m11 0h1m1 0h1m18 0h1m30 0h1m11 0h1m1 0h1m86 0h2m1 0h9m1 0h1m1 0h2m16 0h1m10 0h2m2 0h1m13 0h2m6 0h1m96 0h1m14 0h1m3 0h1m43 0h1M75 258.5h1m20 0h1m1 0h2m5 0h1m2 0h1m24 0h1m89 0h2m1 0h13m4 0h1m4 0h2m17 0h1m3 0h1m116 0h1m4 0h1m1 0h1M52 259.5h1m2 0h1m14 0h1m4 0h1m3 0h1m7 0h1m9 0h1m10 0h1m3 0h1m8 0h1m99 0h3m1 0h13m3 0h1m1 0h1m15 0h1m4 0h1m9 0h2m17 0h1m6 0h1m92 0h1m5 0h1m6 0h1m26 0h1M60 260.5h1m11 0h1m4 0h1m2 0h2m8 0h1m1 0h2m5 0h1m5 0h1m10 0h1m12 0h1m91 0h1m1 0h1m2 0h11m2 0h2m2 0h1m8 0h4m7 0h1m1 0h1m8 0h2m13 0h1m5 0h1m9 0h1m82 0h1m9 0h1m4 0h2m3 0h2M52 261.5h1m2 0h1m7 0h1m10 0h1m1 0h2m1 0h1m25 0h1m11 0h1m5 0h1m2 0h1m4 0h1m89 0h2m2 0h4m1 0h9m7 0h1m4 0h1m1 0h1m4 0h1m4 0h1m10 0h1m3 0h1m8 0h1m11 0h1m93 0h2m6 0h1m41 0h1M59 262.5h1m10 0h1m5 0h1m2 0h2m1 0h1m13 0h1m5 0h1m8 0h1m6 0h1m2 0h1m9 0h1m3 0h1m87 0h1m1 0h2m1 0h8m2 0h2m7 0h2m30 0h1m7 0h1m99 0h1m2 0h1m2 0h1m1 0h1m4 0h1m3 0h1m1 0h2M55 263.5h1m6 0h1m14 0h1m1 0h1m6 0h1m10 0h1m4 0h1m5 0h1m4 0h2m8 0h1m99 0h3m1 0h3m1 0h5m5 0h1m5 0h1m5 0h1m10 0h2m2 0h1m10 0h1m8 0h4m3 0h1m92 0h1m2 0h1m4 0h2m3 0h1m6 0h1m47 0h1M55 264.5h2m2 0h1m7 0h1m2 0h1m12 0h1m1 0h1m4 0h1m6 0h1m14 0h2m1 0h1m9 0h1m7 0h1m88 0h1m2 0h2m1 0h1m1 0h5m1 0h1m1 0h1m8 0h1m10 0h1m14 0h1m2 0h2m22 0h1m86 0h1m2 0h1m1 0h2m2 0h1m31 0h1m26 0h1M51 265.5h2m6 0h1m2 0h1m12 0h1m1 0h1m17 0h1m7 0h1m9 0h1m14 0h1m1 0h1m1 0h1m92 0h1m2 0h4m1 0h4m10 0h1m37 0h1m7 0h1m101 0h2m6 0h1m46 0h1M60 266.5h1m4 0h1m5 0h1m10 0h1m6 0h1m16 0h1m14 0h1m3 0h2m3 0h1m1 0h2m3 0h1m83 0h2m1 0h2m1 0h1m1 0h2m1 0h3m1 0h1m2 0h1m4 0h1m13 0h1m9 0h1m18 0h1m113 0h1m3 0h1m28 0h1m9 0h1M57 267.5h1m12 0h1m9 0h1m1 0h1m5 0h2m7 0h1m2 0h1m3 0h4m1 0h1m2 0h1m2 0h1m1 0h2m1 0h2m1 0h1m1 0h2m1 0h1m2 0h3m4 0h1m85 0h1m3 0h2m1 0h2m1 0h1m2 0h1m12 0h1m6 0h1m28 0h1m3 0h1m96 0h1m4 0h2m4 0h1m5 0h1m5 0h1m17 0h1m6 0h1M53 268.5h1m7 0h1m12 0h3m7 0h2m11 0h3m2 0h1m4 0h1m2 0h3m1 0h2m5 0h1m1 0h1m3 0h1m1 0h1m1 0h1m1 0h2m1 0h2m83 0h1m1 0h1m2 0h2m1 0h1m2 0h3m4 0h1m9 0h1m9 0h1m39 0h1m90 0h1m2 0h1m6 0h1m8 0h1M58 269.5h1m5 0h1m4 0h1m19 0h1m2 0h1m1 0h2m1 0h1m3 0h3m1 0h1m3 0h1m1 0h1m1 0h3m1 0h2m1 0h2m1 0h1m2 0h10m92 0h2m1 0h3m4 0h1m17 0h2m2 0h1m19 0h1m11 0h1m2 0h2m91 0h1m6 0h1m2 0h1m1 0h1m3 0h1m1 0h1m2 0h1m5 0h1m2 0h1M53 270.5h1m11 0h3m1 0h1m1 0h2m3 0h3m1 0h3m1 0h1m1 0h3m1 0h6m1 0h2m2 0h3m1 0h1m2 0h3m1 0h2m1 0h1m2 0h3m1 0h1m2 0h4m2 0h3m3 0h1m1 0h1m84 0h3m1 0h6m1 0h1m1 0h1m1 0h1m18 0h1m1 0h1m2 0h1m127 0h1m3 0h2m7 0h2m2 0h1m44 0h1M66 271.5h1m3 0h2m2 0h2m2 0h4m1 0h1m1 0h5m1 0h3m1 0h6m1 0h2m1 0h4m1 0h2m1 0h4m1 0h2m1 0h13m2 0h1m2 0h1m84 0h1m2 0h2m1 0h1m1 0h1m3 0h1m2 0h1m5 0h1m4 0h1m6 0h1m20 0h1m109 0h1m2 0h1m7 0h1m45 0h1m9 0h1M59 272.5h1m1 0h1m1 0h2m1 0h2m2 0h1m2 0h2m1 0h4m1 0h3m1 0h3m1 0h10m1 0h1m1 0h3m1 0h7m1 0h3m1 0h1m1 0h5m1 0h4m1 0h2m2 0h3m1 0h1m2 0h1m77 0h1m3 0h4m1 0h3m2 0h1m22 0h1m128 0h1m7 0h1m3 0h2m6 0h2m1 0h1m30 0h2m6 0h5m1 0h1m6 0h1M56 273.5h1m4 0h1m1 0h5m1 0h3m1 0h2m1 0h3m1 0h2m1 0h11m1 0h1m1 0h2m1 0h2m1 0h1m1 0h2m1 0h2m2 0h4m1 0h3m1 0h3m1 0h3m1 0h4m3 0h4m1 0h1m82 0h3m1 0h1m1 0h1m2 0h1m2 0h1m3 0h1m1 0h1m5 0h1m13 0h1m1 0h1m9 0h1m17 0h1m100 0h1m6 0h1m34 0h1m12 0h1m1 0h2m3 0h2m1 0h1m1 0h1M56 274.5h1m1 0h1m1 0h4m1 0h1m1 0h4m2 0h3m1 0h1m1 0h7m1 0h2m2 0h1m1 0h1m1 0h2m1 0h2m1 0h3m1 0h1m1 0h15m1 0h5m3 0h6m1 0h1m1 0h2m1 0h1m81 0h1m1 0h5m5 0h1m1 0h1m22 0h2m5 0h1m17 0h1m10 0h1m88 0h4m2 0h2m1 0h1m3 0h1m6 0h2m19 0h1m5 0h1m3 0h1m4 0h4m1 0h5m1 0h2m2 0h5M57 275.5h1m1 0h6m1 0h2m1 0h1m1 0h9m2 0h3m3 0h9m5 0h2m1 0h3m1 0h9m1 0h11m1 0h6m1 0h3m81 0h1m2 0h1m1 0h1m1 0h3m2 0h1m4 0h1m1 0h1m5 0h1m6 0h1m23 0h1m17 0h1m95 0h1m6 0h1m4 0h1m2 0h1m1 0h1m6 0h1m2 0h1m1 0h1m1 0h1m1 0h2m1 0h1m2 0h5m1 0h2m1 0h1m1 0h1m4 0h3m1 0h1m1 0h2m1 0h3m1 0h1M54 276.5h1m1 0h2m5 0h4m1 0h1m1 0h4m1 0h14m1 0h8m2 0h1m1 0h8m1 0h7m1 0h3m1 0h5m1 0h3m1 0h1m1 0h4m1 0h1m1 0h1m79 0h2m1 0h2m2 0h2m3 0h1m4 0h1m5 0h1m9 0h2m10 0h1m11 0h1m9 0h1m5 0h1m94 0h2m2 0h1m2 0h1m10 0h1m3 0h1m1 0h2m4 0h2m2 0h6m1 0h1m1 0h1m4 0h10m1 0h5m2 0h3m1 0h1m1 0h1M55 277.5h2m1 0h11m2 0h1m2 0h1m1 0h4m2 0h12m1 0h15m1 0h1m1 0h5m1 0h7m1 0h3m1 0h8m1 0h2m81 0h2m3 0h1m1 0h1m19 0h1m9 0h1m5 0h1m14 0h1m106 0h1m2 0h1m5 0h1m1 0h1m3 0h1m1 0h1m1 0h2m2 0h2m1 0h2m1 0h5m1 0h2m1 0h4m1 0h1m2 0h9m1 0h1m1 0h3m1 0h4m2 0h2m1 0h1m3 0h1M52 278.5h1m4 0h2m1 0h1m2 0h5m1 0h9m1 0h2m1 0h21m1 0h5m2 0h4m1 0h4m1 0h1m1 0h14m2 0h2m1 0h1m79 0h1m2 0h4m1 0h4m21 0h1m14 0h1m10 0h1m8 0h1m3 0h1m3 0h1m88 0h1m8 0h1m1 0h1m1 0h5m1 0h9m1 0h1m1 0h13m1 0h6m1 0h8m1 0h1m1 0h1m1 0h5m4 0h1m2 0h1M53 279.5h3m1 0h10m1 0h6m1 0h15m1 0h8m1 0h18m1 0h2m1 0h5m2 0h3m2 0h1m2 0h4m2 0h1m78 0h1m2 0h1m6 0h1m1 0h1m29 0h1m123 0h1m4 0h3m1 0h2m1 0h6m1 0h4m1 0h2m1 0h11m1 0h2m1 0h3m1 0h1m1 0h6m1 0h1m1 0h4m1 0h5m1 0h4m2 0h1M52 280.5h1m1 0h10m1 0h11m1 0h4m1 0h3m1 0h2m1 0h4m2 0h19m1 0h5m1 0h3m1 0h10m2 0h2m85 0h3m1 0h1m3 0h1m12 0h1m8 0h1m9 0h1m6 0h1m16 0h2m13 0h1m89 0h16m1 0h4m1 0h2m1 0h12m1 0h4m1 0h1m1 0h1m1 0h5m1 0h4m1 0h1m4 0h1m1 0h1M56 281.5h2m2 0h3m1 0h11m1 0h7m1 0h4m2 0h22m1 0h7m1 0h8m1 0h1m1 0h4m1 0h1m1 0h1m83 0h4m1 0h1m1 0h1m2 0h1m9 0h1m16 0h1m130 0h15m1 0h2m1 0h2m1 0h2m1 0h2m1 0h6m3 0h12m1 0h5m1 0h8m1 0h3M52 282.5h21m1 0h5m1 0h21m1 0h10m1 0h4m1 0h3m1 0h2m1 0h1m1 0h6m1 0h1m1 0h3m87 0h4m2 0h1m1 0h1m1 0h1m23 0h1m4 0h1m1 0h1m25 0h1m3 0h1m92 0h11m1 0h7m1 0h1m1 0h3m1 0h4m1 0h6m1 0h11m1 0h8m2 0h6M53 283.5h1m1 0h3m1 0h22m1 0h10m1 0h2m1 0h5m1 0h1m1 0h9m1 0h5m1 0h1m1 0h4m1 0h1m1 0h2m1 0h1m1 0h2m86 0h2m1 0h2m3 0h1m7 0h1m22 0h2m17 0h1m111 0h29m1 0h1m1 0h1m1 0h1m1 0h6m1 0h6m1 0h12m7 0h1M52 284.5h3m2 0h6m1 0h4m1 0h4m1 0h3m1 0h14m1 0h8m1 0h8m1 0h11m1 0h8m91 0h1m2 0h2m3 0h1m2 0h1m1 0h1m7 0h1m6 0h1m8 0h1m10 0h1m6 0h1m15 0h1m1 0h2m5 0h1m84 0h1m3 0h3m1 0h20m2 0h6m1 0h4m1 0h5m2 0h6m1 0h9m1 0h2M53 285.5h25m1 0h3m1 0h14m1 0h3m1 0h8m1 0h4m2 0h2m3 0h1m1 0h8m91 0h1m2 0h1m1 0h1m2 0h1m50 0h1m108 0h27m1 0h3m1 0h6m1 0h1m1 0h2m1 0h2m1 0h1m1 0h5m2 0h1m1 0h2m1 0h1M53 286.5h1m1 0h10m1 0h23m1 0h2m1 0h11m1 0h1m1 0h9m1 0h1m1 0h3m1 0h1m1 0h4m3 0h2m91 0h1m7 0h1m7 0h1m7 0h1m14 0h1m14 0h1m22 0h1m87 0h1m1 0h16m1 0h6m1 0h2m1 0h4m1 0h1m3 0h1m2 0h2m1 0h2m1 0h2m3 0h1m5 0h1m1 0h1m3 0h1M53 287.5h1m1 0h13m1 0h4m1 0h9m1 0h20m1 0h4m1 0h4m1 0h1m4 0h2m1 0h1m3 0h1m3 0h1m91 0h1m1 0h2m7 0h1m11 0h1m6 0h1m4 0h1m9 0h1m11 0h2m107 0h14m1 0h3m1 0h2m3 0h1m1 0h1m1 0h2m1 0h1m1 0h1m1 0h1m1 0h1m1 0h1m9 0h1m1 0h1m2 0h1M52 288.5h3m3 0h7m1 0h2m1 0h29m1 0h2m1 0h4m3 0h1m1 0h2m113 0h1m1 0h1m1 0h2m2 0h1m21 0h1m3 0h1m4 0h1m5 0h1m9 0h1m21 0h1m85 0h12m1 0h2m1 0h3m1 0h1m1 0h1m2 0h1m1 0h3m3 0h1m20 0h1M52 289.5h1m1 0h21m1 0h3m1 0h3m1 0h1m1 0h2m4 0h9m11 0h2m1 0h2m7 0h2m6 0h1m88 0h1m4 0h1m2 0h1m20 0h1m24 0h1m113 0h1m1 0h8m1 0h5m3 0h1m1 0h1m1 0h1m5 0h1m6 0h1m14 0h1m2 0h1m3 0h1m1 0h2m1 0h1M53 290.5h4m1 0h6m1 0h2m1 0h6m1 0h6m1 0h3m6 0h2m1 0h1m1 0h1m4 0h3m1 0h1m2 0h1m1 0h1m21 0h1m92 0h1m2 0h1m3 0h1m38 0h1m3 0h1m17 0h2m91 0h1m1 0h1m2 0h4m1 0h6m1 0h1m6 0h1m5 0h2m5 0h1m18 0h1m2 0h1m3 0h1M53 291.5h2m1 0h14m1 0h3m4 0h1m1 0h3m1 0h1m1 0h1m1 0h1m10 0h1m4 0h2m20 0h1m96 0h6m6 0h1m45 0h1m2 0h1m7 0h1m2 0h1m7 0h1m86 0h11m1 0h1m1 0h1m5 0h1m1 0h1m2 0h2m1 0h1m3 0h2m10 0h2m9 0h1m4 0h1M53 292.5h1m2 0h8m2 0h5m2 0h3m1 0h2m4 0h1m4 0h1m9 0h1m14 0h1m5 0h1m6 0h1m1 0h1m4 0h1m88 0h1m1 0h4m4 0h1m2 0h1m29 0h2m6 0h1m1 0h1m12 0h1m99 0h1m2 0h11m5 0h1m13 0h1m7 0h1m12 0h1M54 293.5h1m1 0h5m2 0h3m1 0h1m1 0h1m2 0h1m8 0h1m2 0h1m7 0h1m22 0h1m12 0h1m5 0h1m88 0h7m2 0h1m10 0h1m8 0h1m15 0h1m32 0h1m88 0h6m1 0h5m2 0h1m4 0h1m5 0h1m4 0h1m2 0h1m16 0h1m3 0h1M53 294.5h3m1 0h5m1 0h1m1 0h3m7 0h1m8 0h1m2 0h1m4 0h1m7 0h1m4 0h1m11 0h1m2 0h1m6 0h2m93 0h7m1 0h1m1 0h1m15 0h1m24 0h1m30 0h1m84 0h16m2 0h1m21 0h1m3 0h1m8 0h1m4 0h1M54 295.5h1m1 0h9m4 0h2m14 0h3m1 0h1m8 0h1m15 0h1m7 0h1m2 0h1m5 0h1m89 0h1m1 0h7m2 0h1m18 0h1m3 0h1m19 0h1m5 0h1m103 0h1m3 0h13m1 0h1m8 0h1m5 0h1m2 0h1m4 0h1m1 0h1m2 0h1m4 0h1m2 0h1m3 0h1m5 0h1M53 296.5h1m1 0h9m1 0h2m1 0h1m27 0h1m4 0h1m2 0h1m4 0h2m6 0h1m103 0h1m1 0h8m1 0h1m26 0h1m12 0h1m116 0h11m1 0h1m7 0h1m14 0h1m12 0h1m3 0h1m6 0h2M55 297.5h3m1 0h7m3 0h1m5 0h1m16 0h2m9 0h1m119 0h1m1 0h7m5 0h1m4 0h1m2 0h1m8 0h1m133 0h1m1 0h11m2 0h1m9 0h1m3 0h1m5 0h2m10 0h1M54 298.5h2m1 0h1m1 0h5m2 0h2m23 0h2m3 0h1m9 0h1m114 0h9m2 0h1m154 0h1m3 0h10m1 0h1m3 0h1m12 0h1m10 0h1m3 0h1m7 0h1M54 299.5h1m2 0h5m2 0h1m16 0h1m7 0h1m3 0h1m126 0h1m1 0h2m1 0h3m5 0h1m155 0h11m4 0h1m2 0h1m11 0h1m2 0h1m5 0h1m1 0h1m14 0h1m1 0h1M57 300.5h3m2 0h1m1 0h1m1 0h2m1 0h2m153 0h3m163 0h8m2 0h1m4 0h1m29 0h1M56 301.5h1m1 0h8m1 0h1m153 0h1m1 0h2m1 0h1m1 0h1m162 0h10m3 0h2m6 0h1m6 0h1M54 302.5h1m1 0h4m1 0h3m324 0h1m2 0h8M54 303.5h1m2 0h1m1 0h1m1 0h2m1 0h1m1 0h1m161 0h1m163 0h1m1 0h8M55 304.5h9m2 0h1m326 0h1m1 0h3M53 305.5h1m5 0h1m1 0h1m1 0h3m330 0h1"/>
<rect x="28.70" y="4.10" width="145.70" height="140.70" fill="none" stroke="#111" stroke-width="1.4"/>
<path d="M25.30 144.80H28.70M26.90 130.92H28.70M26.90 122.80H28.70M26.90 117.05H28.70M26.90 112.58H28.70M26.90 108.93H28.70M26.90 105.84H28.70M26.90 103.17H28.70M26.90 100.81H28.70M25.30 98.70H28.70M26.90 84.82H28.70M26.90 76.70H28.70M26.90 70.95H28.70M26.90 66.48H28.70M26.90 62.83H28.70M26.90 59.74H28.70M26.90 57.07H28.70M26.90 54.71H28.70M25.30 52.60H28.70M26.90 38.72H28.70M26.90 30.60H28.70M26.90 24.85H28.70M26.90 20.38H28.70M26.90 16.73H28.70M26.90 13.64H28.70M26.90 10.97H28.70M26.90 8.61H28.70M25.30 6.50H28.70M32.40 144.80V147.00M44.35 144.80V147.00M56.40 144.80V148.80M68.20 144.80V147.00M80.30 144.80V147.00M91.80 144.80V147.00M103.60 144.80V147.00M113.60 144.80V148.80M124.50 144.80V147.00M135.60 144.80V147.00M146.35 144.80V147.00M157.50 144.80V147.00M170.30 144.80V148.80" stroke="#1a1a1a" stroke-width="1.1" fill="none"/>
<rect x="199.55" y="4.10" width="145.70" height="140.70" fill="none" stroke="#111" stroke-width="1.4"/>
<path d="M196.15 144.80H199.55M197.75 130.92H199.55M197.75 122.80H199.55M197.75 117.05H199.55M197.75 112.58H199.55M197.75 108.93H199.55M197.75 105.84H199.55M197.75 103.17H199.55M197.75 100.81H199.55M196.15 98.70H199.55M197.75 84.82H199.55M197.75 76.70H199.55M197.75 70.95H199.55M197.75 66.48H199.55M197.75 62.83H199.55M197.75 59.74H199.55M197.75 57.07H199.55M197.75 54.71H199.55M196.15 52.60H199.55M197.75 38.72H199.55M197.75 30.60H199.55M197.75 24.85H199.55M197.75 20.38H199.55M197.75 16.73H199.55M197.75 13.64H199.55M197.75 10.97H199.55M197.75 8.61H199.55M196.15 6.50H199.55M203.25 144.80V147.00M215.20 144.80V147.00M227.25 144.80V148.80M239.05 144.80V147.00M251.15 144.80V147.00M262.65 144.80V147.00M274.45 144.80V147.00M284.45 144.80V148.80M295.35 144.80V147.00M306.45 144.80V147.00M317.20 144.80V147.00M328.35 144.80V147.00M341.15 144.80V148.80" stroke="#1a1a1a" stroke-width="1.1" fill="none"/>
<rect x="370.40" y="4.10" width="145.70" height="140.70" fill="none" stroke="#111" stroke-width="1.4"/>
<path d="M367.00 144.80H370.40M368.60 130.92H370.40M368.60 122.80H370.40M368.60 117.05H370.40M368.60 112.58H370.40M368.60 108.93H370.40M368.60 105.84H370.40M368.60 103.17H370.40M368.60 100.81H370.40M367.00 98.70H370.40M368.60 84.82H370.40M368.60 76.70H370.40M368.60 70.95H370.40M368.60 66.48H370.40M368.60 62.83H370.40M368.60 59.74H370.40M368.60 57.07H370.40M368.60 54.71H370.40M367.00 52.60H370.40M368.60 38.72H370.40M368.60 30.60H370.40M368.60 24.85H370.40M368.60 20.38H370.40M368.60 16.73H370.40M368.60 13.64H370.40M368.60 10.97H370.40M368.60 8.61H370.40M367.00 6.50H370.40M374.10 144.80V147.00M386.05 144.80V147.00M398.10 144.80V148.80M409.90 144.80V147.00M422.00 144.80V147.00M433.50 144.80V147.00M445.30 144.80V147.00M455.30 144.80V148.80M466.20 144.80V147.00M477.30 144.80V147.00M488.05 144.80V147.00M499.20 144.80V147.00M512.00 144.80V148.80" stroke="#1a1a1a" stroke-width="1.1" fill="none"/>
<rect x="28.70" y="165.80" width="145.70" height="139.90" fill="none" stroke="#111" stroke-width="1.4"/>
<path d="M25.30 305.70H28.70M26.90 291.90H28.70M26.90 283.83H28.70M26.90 278.11H28.70M26.90 273.66H28.70M26.90 270.03H28.70M26.90 266.97H28.70M26.90 264.31H28.70M26.90 261.96H28.70M25.30 259.87H28.70M26.90 246.07H28.70M26.90 238.00H28.70M26.90 232.27H28.70M26.90 227.83H28.70M26.90 224.20H28.70M26.90 221.13H28.70M26.90 218.48H28.70M26.90 216.13H28.70M25.30 214.03H28.70M26.90 200.24H28.70M26.90 192.17H28.70M26.90 186.44H28.70M26.90 182.00H28.70M26.90 178.37H28.70M26.90 175.30H28.70M26.90 172.64H28.70M26.90 170.30H28.70M25.30 168.20H28.70M32.40 305.70V307.90M44.35 305.70V307.90M56.40 305.70V309.70M68.20 305.70V307.90M80.30 305.70V307.90M91.80 305.70V307.90M103.60 305.70V307.90M113.60 305.70V309.70M124.50 305.70V307.90M135.60 305.70V307.90M146.35 305.70V307.90M157.50 305.70V307.90M170.30 305.70V309.70" stroke="#1a1a1a" stroke-width="1.1" fill="none"/>
<rect x="199.55" y="165.80" width="145.70" height="139.90" fill="none" stroke="#111" stroke-width="1.4"/>
<path d="M196.15 305.70H199.55M197.75 291.90H199.55M197.75 283.83H199.55M197.75 278.11H199.55M197.75 273.66H199.55M197.75 270.03H199.55M197.75 266.97H199.55M197.75 264.31H199.55M197.75 261.96H199.55M196.15 259.87H199.55M197.75 246.07H199.55M197.75 238.00H199.55M197.75 232.27H199.55M197.75 227.83H199.55M197.75 224.20H199.55M197.75 221.13H199.55M197.75 218.48H199.55M197.75 216.13H199.55M196.15 214.03H199.55M197.75 200.24H199.55M197.75 192.17H199.55M197.75 186.44H199.55M197.75 182.00H199.55M197.75 178.37H199.55M197.75 175.30H199.55M197.75 172.64H199.55M197.75 170.30H199.55M196.15 168.20H199.55M203.25 305.70V307.90M215.20 305.70V307.90M227.25 305.70V309.70M239.05 305.70V307.90M251.15 305.70V307.90M262.65 305.70V307.90M274.45 305.70V307.90M284.45 305.70V309.70M295.35 305.70V307.90M306.45 305.70V307.90M317.20 305.70V307.90M328.35 305.70V307.90M341.15 305.70V309.70" stroke="#1a1a1a" stroke-width="1.1" fill="none"/>
<rect x="370.40" y="165.80" width="145.70" height="139.90" fill="none" stroke="#111" stroke-width="1.4"/>
<path d="M367.00 305.70H370.40M368.60 291.90H370.40M368.60 283.83H370.40M368.60 278.11H370.40M368.60 273.66H370.40M368.60 270.03H370.40M368.60 266.97H370.40M368.60 264.31H370.40M368.60 261.96H370.40M367.00 259.87H370.40M368.60 246.07H370.40M368.60 238.00H370.40M368.60 232.27H370.40M368.60 227.83H370.40M368.60 224.20H370.40M368.60 221.13H370.40M368.60 218.48H370.40M368.60 216.13H370.40M367.00 214.03H370.40M368.60 200.24H370.40M368.60 192.17H370.40M368.60 186.44H370.40M368.60 182.00H370.40M368.60 178.37H370.40M368.60 175.30H370.40M368.60 172.64H370.40M368.60 170.30H370.40M367.00 168.20H370.40M374.10 305.70V307.90M386.05 305.70V307.90M398.10 305.70V309.70M409.90 305.70V307.90M422.00 305.70V307.90M433.50 305.70V307.90M445.30 305.70V307.90M455.30 305.70V309.70M466.20 305.70V307.90M477.30 305.70V307.90M488.05 305.70V307.90M499.20 305.70V307.90M512.00 305.70V309.70" stroke="#1a1a1a" stroke-width="1.1" fill="none"/>
<g font-family="&quot;Liberation Sans&quot;, Arial, sans-serif" fill="#111" stroke="#111" stroke-width="0.2" style="font-kerning:none">
<g stroke-width="0.3">
<text x="50.79" y="154.80" font-size="7.00" textLength="11.94" lengthAdjust="spacingAndGlyphs">200</text>
<text x="108.19" y="154.80" font-size="7.00" textLength="11.74" lengthAdjust="spacingAndGlyphs">400</text>
<text x="164.69" y="154.80" font-size="7.00" textLength="11.94" lengthAdjust="spacingAndGlyphs">600</text>
<text transform="translate(22.10 150.26) rotate(-90)" font-size="7.60" textLength="6.69" lengthAdjust="spacingAndGlyphs">10</text>
<text transform="translate(18.30 142.26) rotate(-90)" font-size="7.20" textLength="3.02" lengthAdjust="spacingAndGlyphs">0</text>
<text transform="translate(22.10 104.16) rotate(-90)" font-size="7.60" textLength="6.69" lengthAdjust="spacingAndGlyphs">10</text>
<text transform="translate(18.30 95.22) rotate(-90)" font-size="7.20" textLength="1.93" lengthAdjust="spacingAndGlyphs">1</text>
<text transform="translate(22.10 58.06) rotate(-90)" font-size="7.60" textLength="6.69" lengthAdjust="spacingAndGlyphs">10</text>
<text transform="translate(18.30 50.14) rotate(-90)" font-size="7.20" textLength="3.17" lengthAdjust="spacingAndGlyphs">2</text>
<text transform="translate(22.10 11.96) rotate(-90)" font-size="7.60" textLength="6.69" lengthAdjust="spacingAndGlyphs">10</text>
<text transform="translate(18.30 3.96) rotate(-90)" font-size="7.20" textLength="3.05" lengthAdjust="spacingAndGlyphs">3</text>
<text x="221.64" y="154.80" font-size="7.00" textLength="11.94" lengthAdjust="spacingAndGlyphs">200</text>
<text x="279.04" y="154.80" font-size="7.00" textLength="11.74" lengthAdjust="spacingAndGlyphs">400</text>
<text x="335.54" y="154.80" font-size="7.00" textLength="11.94" lengthAdjust="spacingAndGlyphs">600</text>
<text transform="translate(192.95 150.26) rotate(-90)" font-size="7.60" textLength="6.69" lengthAdjust="spacingAndGlyphs">10</text>
<text transform="translate(189.15 142.26) rotate(-90)" font-size="7.20" textLength="3.02" lengthAdjust="spacingAndGlyphs">0</text>
<text transform="translate(192.95 104.16) rotate(-90)" font-size="7.60" textLength="6.69" lengthAdjust="spacingAndGlyphs">10</text>
<text transform="translate(189.15 95.22) rotate(-90)" font-size="7.20" textLength="1.93" lengthAdjust="spacingAndGlyphs">1</text>
<text transform="translate(192.95 58.06) rotate(-90)" font-size="7.60" textLength="6.69" lengthAdjust="spacingAndGlyphs">10</text>
<text transform="translate(189.15 50.14) rotate(-90)" font-size="7.20" textLength="3.17" lengthAdjust="spacingAndGlyphs">2</text>
<text transform="translate(192.95 11.96) rotate(-90)" font-size="7.60" textLength="6.69" lengthAdjust="spacingAndGlyphs">10</text>
<text transform="translate(189.15 3.96) rotate(-90)" font-size="7.20" textLength="3.05" lengthAdjust="spacingAndGlyphs">3</text>
<text x="392.49" y="154.80" font-size="7.00" textLength="11.94" lengthAdjust="spacingAndGlyphs">200</text>
<text x="449.89" y="154.80" font-size="7.00" textLength="11.74" lengthAdjust="spacingAndGlyphs">400</text>
<text x="506.39" y="154.80" font-size="7.00" textLength="11.94" lengthAdjust="spacingAndGlyphs">600</text>
<text transform="translate(363.80 150.26) rotate(-90)" font-size="7.60" textLength="6.69" lengthAdjust="spacingAndGlyphs">10</text>
<text transform="translate(360.00 142.26) rotate(-90)" font-size="7.20" textLength="3.02" lengthAdjust="spacingAndGlyphs">0</text>
<text transform="translate(363.80 104.16) rotate(-90)" font-size="7.60" textLength="6.69" lengthAdjust="spacingAndGlyphs">10</text>
<text transform="translate(360.00 95.22) rotate(-90)" font-size="7.20" textLength="1.93" lengthAdjust="spacingAndGlyphs">1</text>
<text transform="translate(363.80 58.06) rotate(-90)" font-size="7.60" textLength="6.69" lengthAdjust="spacingAndGlyphs">10</text>
<text transform="translate(360.00 50.14) rotate(-90)" font-size="7.20" textLength="3.17" lengthAdjust="spacingAndGlyphs">2</text>
<text transform="translate(363.80 11.96) rotate(-90)" font-size="7.60" textLength="6.69" lengthAdjust="spacingAndGlyphs">10</text>
<text transform="translate(360.00 3.96) rotate(-90)" font-size="7.20" textLength="3.05" lengthAdjust="spacingAndGlyphs">3</text>
<text x="50.79" y="315.70" font-size="7.00" textLength="11.94" lengthAdjust="spacingAndGlyphs">200</text>
<text x="108.19" y="315.70" font-size="7.00" textLength="11.74" lengthAdjust="spacingAndGlyphs">400</text>
<text x="164.69" y="315.70" font-size="7.00" textLength="11.94" lengthAdjust="spacingAndGlyphs">600</text>
<text transform="translate(22.10 311.16) rotate(-90)" font-size="7.60" textLength="6.69" lengthAdjust="spacingAndGlyphs">10</text>
<text transform="translate(18.30 303.16) rotate(-90)" font-size="7.20" textLength="3.02" lengthAdjust="spacingAndGlyphs">0</text>
<text transform="translate(22.10 265.33) rotate(-90)" font-size="7.60" textLength="6.69" lengthAdjust="spacingAndGlyphs">10</text>
<text transform="translate(18.30 256.38) rotate(-90)" font-size="7.20" textLength="1.93" lengthAdjust="spacingAndGlyphs">1</text>
<text transform="translate(22.10 219.49) rotate(-90)" font-size="7.60" textLength="6.69" lengthAdjust="spacingAndGlyphs">10</text>
<text transform="translate(18.30 211.57) rotate(-90)" font-size="7.20" textLength="3.17" lengthAdjust="spacingAndGlyphs">2</text>
<text transform="translate(22.10 173.66) rotate(-90)" font-size="7.60" textLength="6.69" lengthAdjust="spacingAndGlyphs">10</text>
<text transform="translate(18.30 165.66) rotate(-90)" font-size="7.20" textLength="3.05" lengthAdjust="spacingAndGlyphs">3</text>
<text x="221.64" y="315.70" font-size="7.00" textLength="11.94" lengthAdjust="spacingAndGlyphs">200</text>
<text x="279.04" y="315.70" font-size="7.00" textLength="11.74" lengthAdjust="spacingAndGlyphs">400</text>
<text x="335.54" y="315.70" font-size="7.00" textLength="11.94" lengthAdjust="spacingAndGlyphs">600</text>
<text transform="translate(192.95 311.16) rotate(-90)" font-size="7.60" textLength="6.69" lengthAdjust="spacingAndGlyphs">10</text>
<text transform="translate(189.15 303.16) rotate(-90)" font-size="7.20" textLength="3.02" lengthAdjust="spacingAndGlyphs">0</text>
<text transform="translate(192.95 265.33) rotate(-90)" font-size="7.60" textLength="6.69" lengthAdjust="spacingAndGlyphs">10</text>
<text transform="translate(189.15 256.38) rotate(-90)" font-size="7.20" textLength="1.93" lengthAdjust="spacingAndGlyphs">1</text>
<text transform="translate(192.95 219.49) rotate(-90)" font-size="7.60" textLength="6.69" lengthAdjust="spacingAndGlyphs">10</text>
<text transform="translate(189.15 211.57) rotate(-90)" font-size="7.20" textLength="3.17" lengthAdjust="spacingAndGlyphs">2</text>
<text transform="translate(192.95 173.66) rotate(-90)" font-size="7.60" textLength="6.69" lengthAdjust="spacingAndGlyphs">10</text>
<text transform="translate(189.15 165.66) rotate(-90)" font-size="7.20" textLength="3.05" lengthAdjust="spacingAndGlyphs">3</text>
<text x="392.49" y="315.70" font-size="7.00" textLength="11.94" lengthAdjust="spacingAndGlyphs">200</text>
<text x="449.89" y="315.70" font-size="7.00" textLength="11.74" lengthAdjust="spacingAndGlyphs">400</text>
<text x="506.39" y="315.70" font-size="7.00" textLength="11.94" lengthAdjust="spacingAndGlyphs">600</text>
<text transform="translate(363.80 311.16) rotate(-90)" font-size="7.60" textLength="6.69" lengthAdjust="spacingAndGlyphs">10</text>
<text transform="translate(360.00 303.16) rotate(-90)" font-size="7.20" textLength="3.02" lengthAdjust="spacingAndGlyphs">0</text>
<text transform="translate(363.80 265.33) rotate(-90)" font-size="7.60" textLength="6.69" lengthAdjust="spacingAndGlyphs">10</text>
<text transform="translate(360.00 256.38) rotate(-90)" font-size="7.20" textLength="1.93" lengthAdjust="spacingAndGlyphs">1</text>
<text transform="translate(363.80 219.49) rotate(-90)" font-size="7.60" textLength="6.69" lengthAdjust="spacingAndGlyphs">10</text>
<text transform="translate(360.00 211.57) rotate(-90)" font-size="7.20" textLength="3.17" lengthAdjust="spacingAndGlyphs">2</text>
<text transform="translate(363.80 173.66) rotate(-90)" font-size="7.60" textLength="6.69" lengthAdjust="spacingAndGlyphs">10</text>
<text transform="translate(360.00 165.66) rotate(-90)" font-size="7.20" textLength="3.05" lengthAdjust="spacingAndGlyphs">3</text>
</g>
<text x="124.66" y="16.00" font-size="9.70" textLength="17.92" lengthAdjust="spacing">24h</text>
<text x="146.76" y="16.00" font-size="9.70" textLength="23.21" lengthAdjust="spacing">CTRL</text>
<text x="147.07" y="30.50" font-size="9.70" textLength="21.52" lengthAdjust="spacing">0.9%</text>
<text x="284.61" y="18.30" font-size="9.70" textLength="18.17" lengthAdjust="spacing">24h</text>
<text x="306.71" y="18.30" font-size="9.70" textLength="11.02" lengthAdjust="spacing">10</text>
<text x="319.10" y="13.80" font-size="8.40" textLength="1.91" lengthAdjust="spacingAndGlyphs">-</text>
<text x="322.78" y="15.10" font-size="8.40" textLength="4.74" lengthAdjust="spacingAndGlyphs">8</text>
<text x="332.38" y="18.30" font-size="9.70" textLength="7.85" lengthAdjust="spacingAndGlyphs">M</text>
<text x="313.36" y="31.60" font-size="9.70" textLength="27.53" lengthAdjust="spacing">23.5%</text>
<text x="454.26" y="19.40" font-size="9.70" textLength="17.62" lengthAdjust="spacing">24h</text>
<text x="476.21" y="19.40" font-size="9.70" textLength="10.62" lengthAdjust="spacing">10</text>
<text x="488.72" y="14.90" font-size="8.40" textLength="2.46" lengthAdjust="spacingAndGlyphs">-</text>
<text x="491.68" y="16.20" font-size="8.40" textLength="6.74" lengthAdjust="spacingAndGlyphs">9</text>
<text x="501.50" y="19.40" font-size="9.70" textLength="8.59" lengthAdjust="spacingAndGlyphs">M</text>
<text x="488.61" y="33.50" font-size="9.70" textLength="22.18" lengthAdjust="spacing">1.3%</text>
<text x="124.93" y="178.80" font-size="9.70" textLength="17.55" lengthAdjust="spacing">48h</text>
<text x="147.16" y="178.80" font-size="9.70" textLength="22.51" lengthAdjust="spacing">CTRL</text>
<text x="147.36" y="193.00" font-size="9.70" textLength="22.13" lengthAdjust="spacing">2.1%</text>
<text x="285.53" y="179.40" font-size="9.70" textLength="17.65" lengthAdjust="spacing">48h</text>
<text x="307.41" y="179.40" font-size="9.70" textLength="10.92" lengthAdjust="spacing">10</text>
<text x="319.52" y="175.60" font-size="8.40" textLength="2.46" lengthAdjust="spacingAndGlyphs">-</text>
<text x="323.04" y="176.90" font-size="8.40" textLength="6.52" lengthAdjust="spacingAndGlyphs">8</text>
<text x="332.63" y="179.40" font-size="9.70" textLength="8.34" lengthAdjust="spacingAndGlyphs">M</text>
<text x="313.68" y="192.90" font-size="9.70" textLength="27.12" lengthAdjust="spacing">85.0%</text>
<text x="457.83" y="179.40" font-size="9.70" textLength="17.65" lengthAdjust="spacing">48h</text>
<text x="479.11" y="179.40" font-size="9.70" textLength="10.82" lengthAdjust="spacing">10</text>
<text x="491.37" y="175.60" font-size="8.40" textLength="2.86" lengthAdjust="spacingAndGlyphs">-</text>
<text x="494.61" y="176.90" font-size="8.40" textLength="6.38" lengthAdjust="spacingAndGlyphs">9</text>
<text x="504.83" y="179.40" font-size="9.70" textLength="8.34" lengthAdjust="spacingAndGlyphs">M</text>
<text x="489.88" y="192.90" font-size="9.70" textLength="21.92" lengthAdjust="spacing">3.1%</text>
<text x="203.58" y="334.00" font-size="9.40" textLength="58.59" lengthAdjust="spacing">Fluorescence</text>
<text x="271.78" y="334.00" font-size="9.40" textLength="39.29" lengthAdjust="spacing">Intensity</text>
<text x="320.47" y="334.00" font-size="9.40" textLength="15.67" lengthAdjust="spacing">(PI)</text>
<text transform="translate(9.80 119.63) rotate(-90)" font-size="8.40" textLength="31.57" lengthAdjust="spacingAndGlyphs">d-dUTP</text>
<text transform="translate(9.80 81.26) rotate(-90)" font-size="8.40" textLength="28.63" lengthAdjust="spacingAndGlyphs">(FITC)</text>
<text transform="translate(9.80 275.63) rotate(-90)" font-size="8.40" textLength="31.57" lengthAdjust="spacingAndGlyphs">d-dUTP</text>
<text transform="translate(9.80 234.82) rotate(-90)" font-size="8.40" textLength="26.44" lengthAdjust="spacingAndGlyphs">(FITC)</text>
</g></g>
</svg>
</body></html>
